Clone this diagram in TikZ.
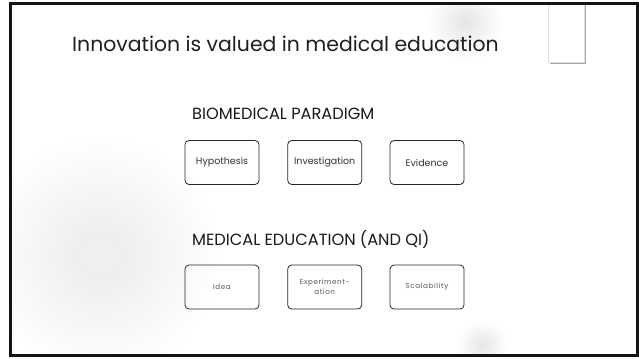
\documentclass[tikz,border=0pt]{standalone}
\usepackage{fontspec}
\setmainfont{Poppins}
\begin{document}
\begin{tikzpicture}[x=1bp,y=-1bp,
  box/.style={draw=black!85, line width=0.8bp, rounded corners=4bp, minimum width=74bp, minimum height=44bp, inner sep=1bp, align=center},
  boxtxt/.style={font=\fontsize{9.5bp}{11bp}\selectfont, text=black!80},
  boxtxtb/.style={font=\addfontfeatures{LetterSpace=8}\fontsize{7.2bp}{9.5bp}\selectfont, text=black!65},
  head/.style={font=\fontsize{16.2bp}{18bp}\selectfont, text=black!90, anchor=base west, inner sep=0pt}]
\useasboundingbox (0,0) rectangle (639,358);
\fill[white] (0,0) rectangle (639,358);
% background soft blobs
\begin{scope}
\clip (11,5) rectangle (636,354);
\shade[inner color=black!8, outer color=white] (100,255) circle (120);
\shade[inner color=white, outer color=black!6, opacity=0.35] (100,255) circle (22);
\shade[inner color=black!10, outer color=white] (465,22) circle (38);
\shade[inner color=black!10, outer color=white] (482,345) circle (25);
\end{scope}
% right tab
\fill[black!35] (549.5,3) rectangle (585.5,64);
\filldraw[fill=white, draw=black!12, line width=0.4bp] (548,3) rectangle (584,62.5);
% frame
\draw[black!92, line width=3bp] (10.5,3.5) rectangle (637,355);
% title
\node[font=\fontsize{20.4bp}{24bp}\selectfont, text=black!88, anchor=base west, inner sep=0pt] (title) at (72,51) {Innovation is valued in medical education};
% headings
\node[head] (bio) at (192,119) {BIOMEDICAL PARADIGM};
\node[head] (med) at (192,245) {MEDICAL EDUCATION (AND QI)};
% row 1
\node[box, boxtxt] (hyp) at (222,162.5) {Hypothesis};
\node[box, boxtxt] (inv) at (324.7,162.5) {Investigation};
\node[box, boxtxt] (evi) at (427,162.5) {Evidence};
% row 2
\node[box, boxtxtb] (idea) at (222,287) {Idea};
\node[box, boxtxtb] (exp) at (324.7,287) {Experiment-\\ation};
\node[box, boxtxtb] (sca) at (427,287) {Scalability};
\end{tikzpicture}
\end{document}
